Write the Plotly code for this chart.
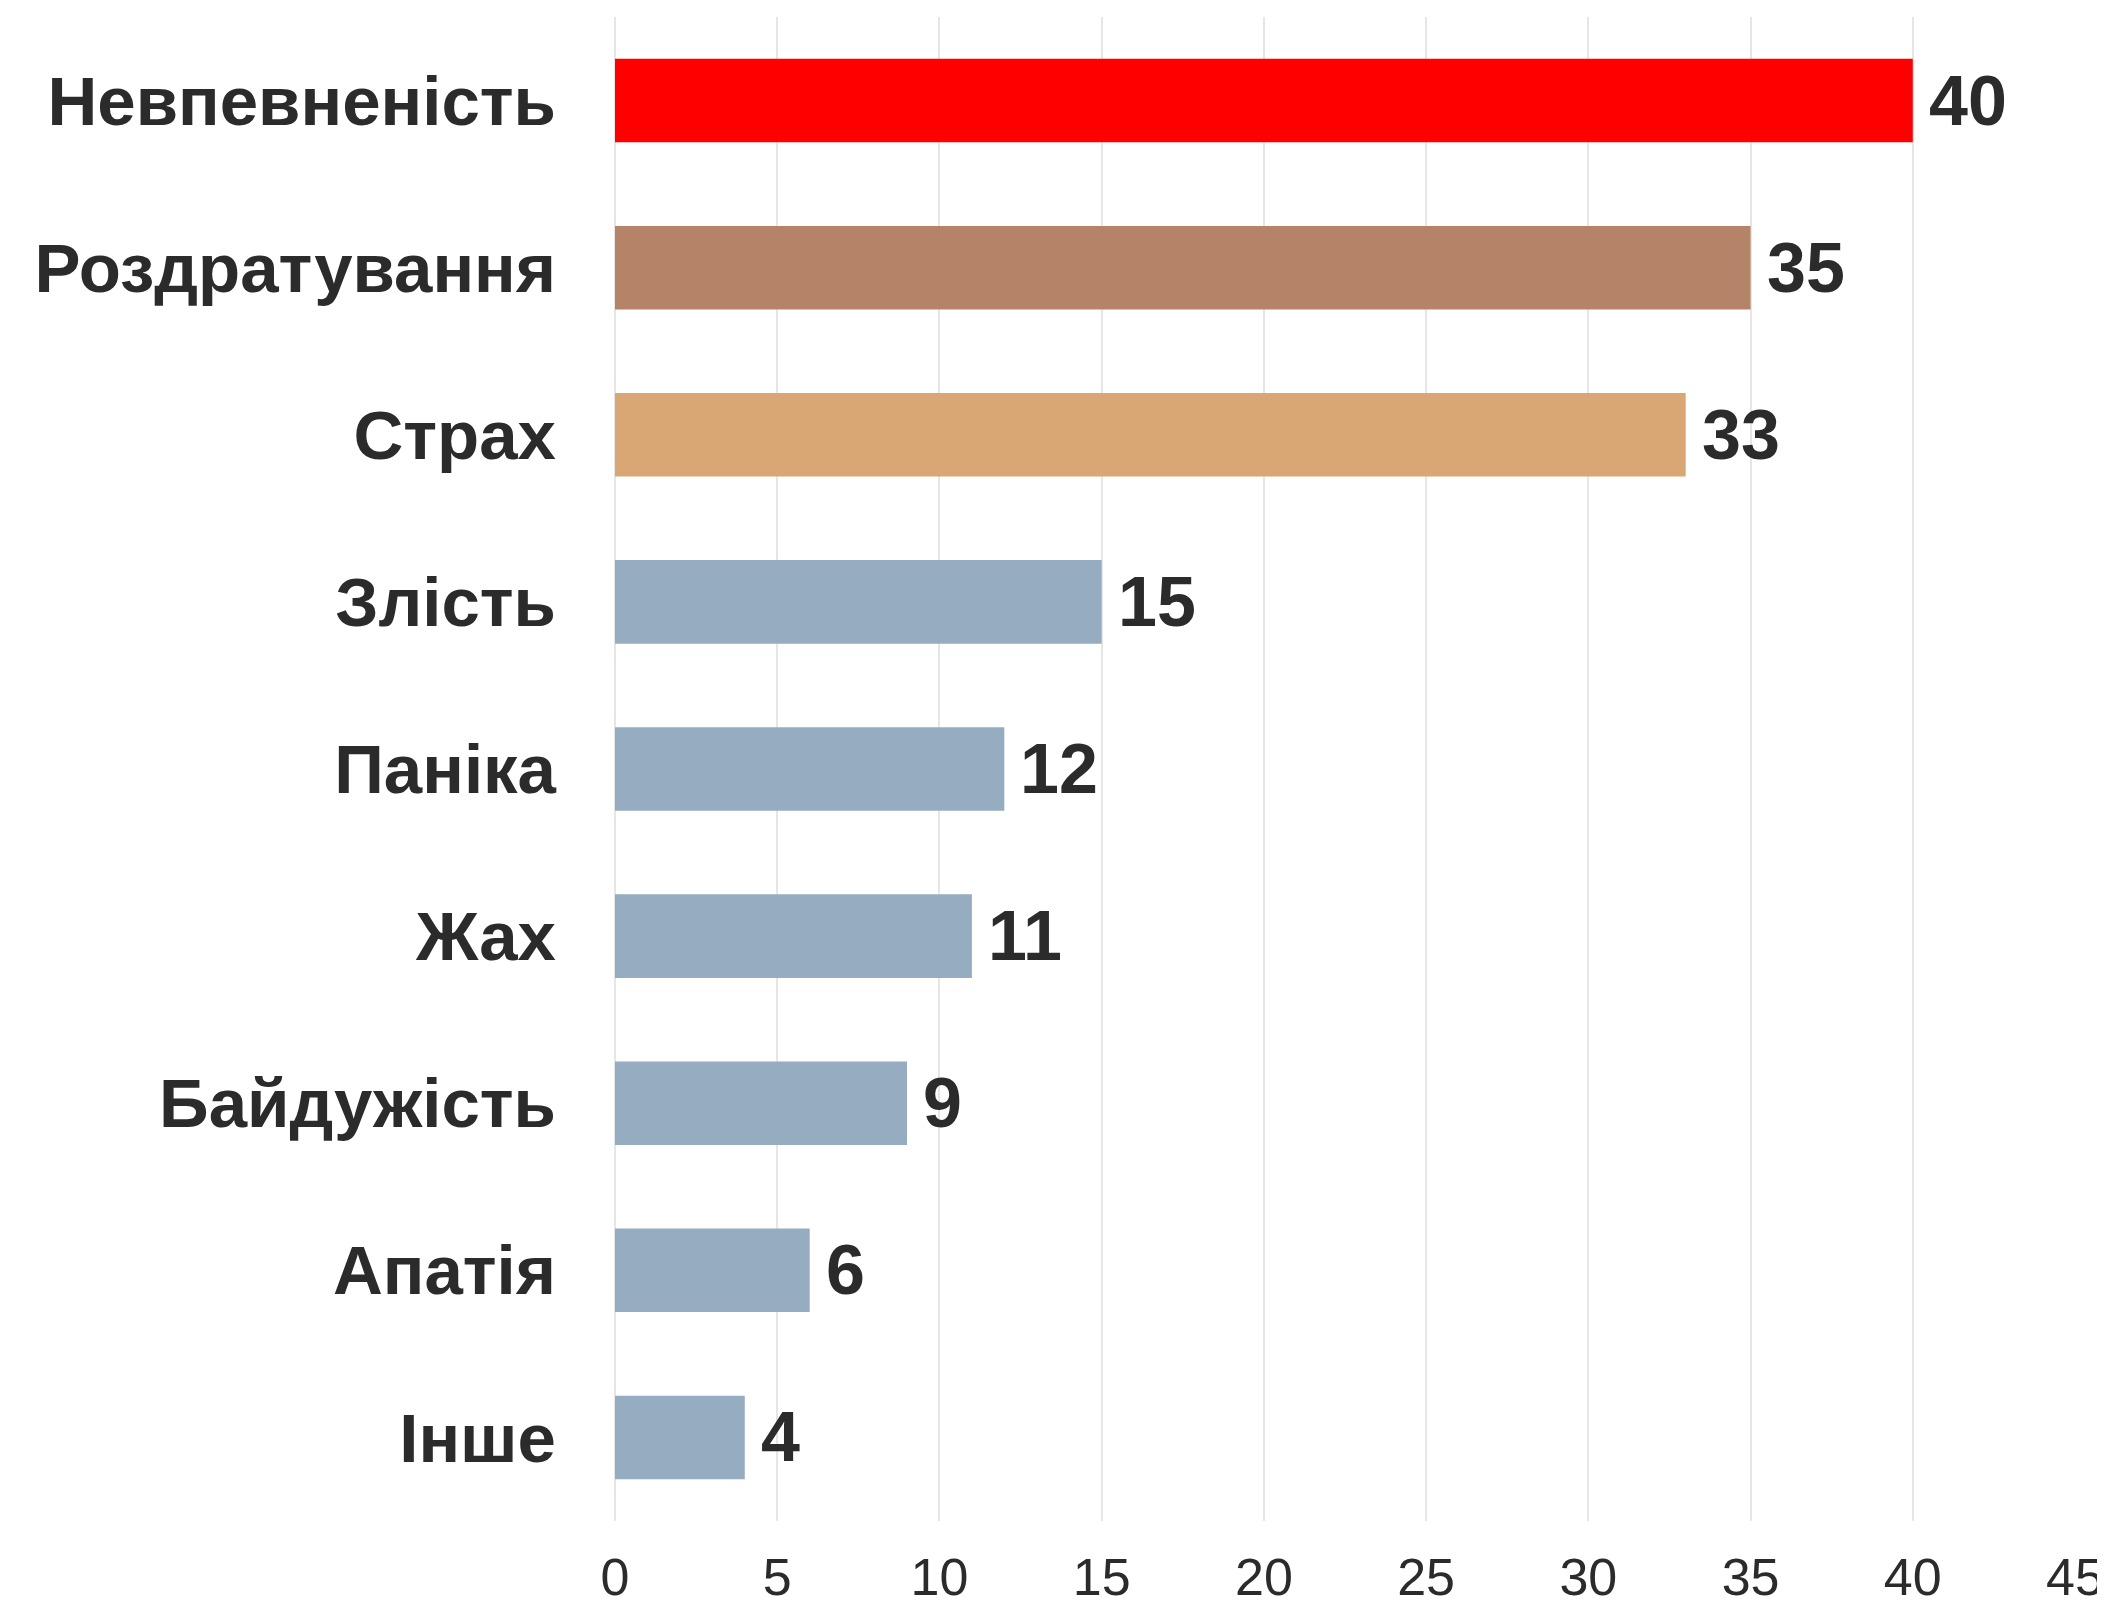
import plotly.graph_objects as go

categories = ["Невпевненість", "Роздратування", "Страх", "Злість", "Паніка",
              "Жах", "Байдужість", "Апатія", "Інше"]
values = [40, 35, 33, 15, 12, 11, 9, 6, 4]
bar_colors = ["#FF0000", "#B58368", "#D8A774", "#96ACC1", "#96ACC1",
              "#96ACC1", "#96ACC1", "#96ACC1", "#96ACC1"]
x_ticks = [0, 5, 10, 15, 20, 25, 30, 35, 40, 45]

TXT = "#2b2b2b"
FONT = "Liberation Sans, Arial, sans-serif"

fig = go.Figure()
fig.add_trace(go.Bar(
    x=values, y=categories, orientation="h",
    marker=dict(color=bar_colors, line=dict(width=0)),
    width=0.5, hoverinfo="skip",
))

for c, v in zip(categories, values):
    fig.add_annotation(x=v, y=c, text=f"<b>{v}</b>", showarrow=False,
                       xanchor="left", yanchor="middle", xshift=14,
                       font=dict(family=FONT, size=70, color=TXT))

# page body has an 8px default margin, so the figure is sized to fit the window
fig.update_layout(
    width=2097, height=1597,
    margin=dict(l=607, r=30, t=9, b=84, autoexpand=False),
    paper_bgcolor="white", plot_bgcolor="white",
    showlegend=False,
    font=dict(family=FONT, color=TXT),
    xaxis=dict(range=[0, 45], tickvals=x_ticks, ticktext=[str(t) for t in x_ticks],
               showgrid=True, gridcolor="#e6e6e6", gridwidth=2,
               zeroline=True, zerolinecolor="#e6e6e6", zerolinewidth=2,
               showline=False, ticks="", ticklabelstandoff=21,
               tickfont=dict(family=FONT, size=52, color=TXT)),
    yaxis=dict(categoryorder="array", categoryarray=categories,
               range=[8.5, -0.5], showgrid=False, zeroline=False, showline=False,
               ticks="", ticklabelstandoff=58,
               tickfont=dict(family=FONT, size=69, color=TXT),
               tickvals=categories, ticktext=[f"<b>{c}</b>" for c in categories]),
)

fig.write_html("out.html")
